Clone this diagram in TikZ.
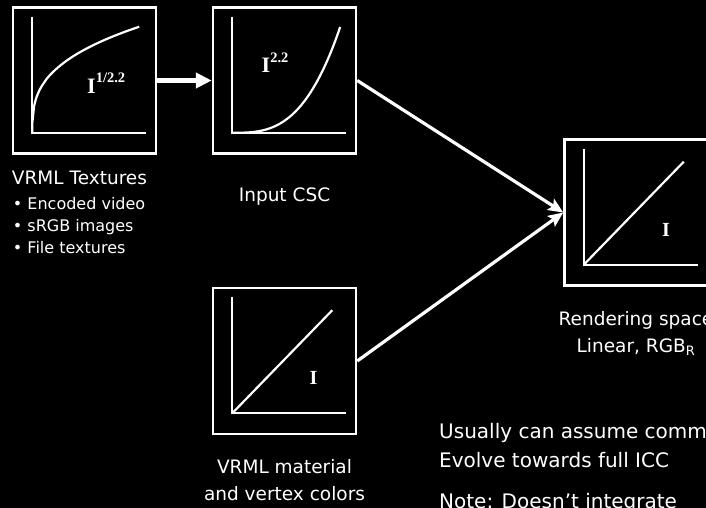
\documentclass[tikz,border=0pt]{standalone}
\usepackage{fontspec}
\setmainfont{DejaVu Sans}
\newfontfamily\gammafont{Liberation Serif}
\usetikzlibrary{arrows.meta,positioning,calc}
\tikzset{
  plotbox/.style  = {draw=white, line width=2.5pt, minimum width=143pt,
                     minimum height=146pt, inner sep=0pt},
  axis/.style     = {draw=white, line width=2pt},
  curve/.style    = {draw=white, line width=2.2pt},
  flow/.style     = {-{Stealth[length=15pt, width=13pt, inset=3pt]},
                     draw=white, fill=white, line width=3.2pt},
  caption/.style  = {text=white, inner sep=0pt, align=center,
                     font=\fontsize{18.5}{27}\selectfont},
  bulletitem/.style = {text=white, inner sep=0pt, anchor=base west,
                     font=\fontsize{16}{22}\selectfont},
  note/.style     = {text=white, inner sep=0pt, anchor=base west,
                     font=\fontsize{20}{29}\selectfont},
  gammalbl/.style = {text=white, inner sep=0pt, anchor=base west,
                     font=\gammafont\fontsize{22}{22}\selectfont\bfseries},
}

\begin{document}
\begin{tikzpicture}[x=1pt, y=-1pt]
  \path[use as bounding box, fill=black] (0,0) rectangle (706,508);
  \clip (0,0) rectangle (706,508);
  % the four transfer curves
  \node[plotbox] (tex) at (84.5,80.5) {};
  \node[plotbox, right=54.5pt of tex] (csc) {};
  \node[plotbox, below=132pt of csc] (mat) {};
  \node[plotbox, minimum width=148pt] (rend) at (638.5,212.5) {};
  \foreach \b in {tex,csc,mat,rend}
    \draw[axis] ($(\b.south west)+(20.5,-138)$) |- ($(\b.south west)+(134.5,-22)$);
  \draw[curve, shift={($(tex.south west)+(20.5,-22)$)}]
    (0,0) -- plot[domain=0.001:1, samples=60] ({107*\x},{-106*pow(\x,0.34)});
  \draw[curve, shift={($(csc.south west)+(20.5,-22)$)}]
    (0,0) -- plot[domain=0.001:1, samples=60] ({108*\x},{-106*pow(\x,3)});
  \draw[curve] ($(mat.south west)+(20.5,-22)$) -- ++(100,-103);
  \draw[curve] ($(rend.south west)+(20.5,-22)$) -- ++(100,-103);
  % gamma labels
  \node[gammalbl] (texgamma) at ($(tex.center)+(2.5,13.5)$)
    {I\raisebox{0.5em}{\fontsize{14.5}{14.5}\selectfont 1/2.2}};
  \node[gammalbl] (cscgamma) at ($(csc.center)+(-23,-7.5)$)
    {I\raisebox{0.46em}{\fontsize{14.5}{14.5}\selectfont 2.2}};
  \node[gammalbl, font=\gammafont\fontsize{20}{20}\selectfont\bfseries]
    (matgamma) at ($(mat.center)+(25,23.5)$) {I};
  \node[gammalbl, font=\gammafont\fontsize{20}{20}\selectfont\bfseries]
    (rendgamma) at ($(rend.center)+(23.5,23.5)$) {I};
  % flows
  \draw[flow, line width=4.5pt, -{Triangle[length=16pt, width=15pt]}] (tex) -- (csc);
  \draw[flow] (csc.east) -- (rend.west);
  \draw[flow] (mat.east) -- (rend.west);
  % captions
  \node[caption, anchor=base west] (texlbl) at ($(tex.south west)+(0,30)$) {VRML Textures};
  \foreach \txt [count=\i] in {Encoded video, sRGB images, File textures}
    \node[bulletitem] (bul\i) at ($(texlbl.base west)+(1,3+22*\i)$) {\textbullet\ \txt};
  \node[caption, anchor=base] (csclbl) at ($(csc.south)+(0,47)$) {Input CSC};
  \node[caption, below=24pt of mat] (matlbl) {VRML material\\and vertex colors};
  \node[caption, below=24pt of rend, xshift=-2.5pt] (rendlbl) {Rendering space\\Linear, RGB\textsubscript{R}};
  % notes
  \node[note] (usual) at (439,438) {Usually can assume common};
  \node[note] (evolve) at ($(usual.base west)+(0,29)$) {Evolve towards full ICC};
  \node[note] (noteline) at ($(evolve.base west)+(0,41)$) {Note: Doesn’t integrate};
\end{tikzpicture}
\end{document}
